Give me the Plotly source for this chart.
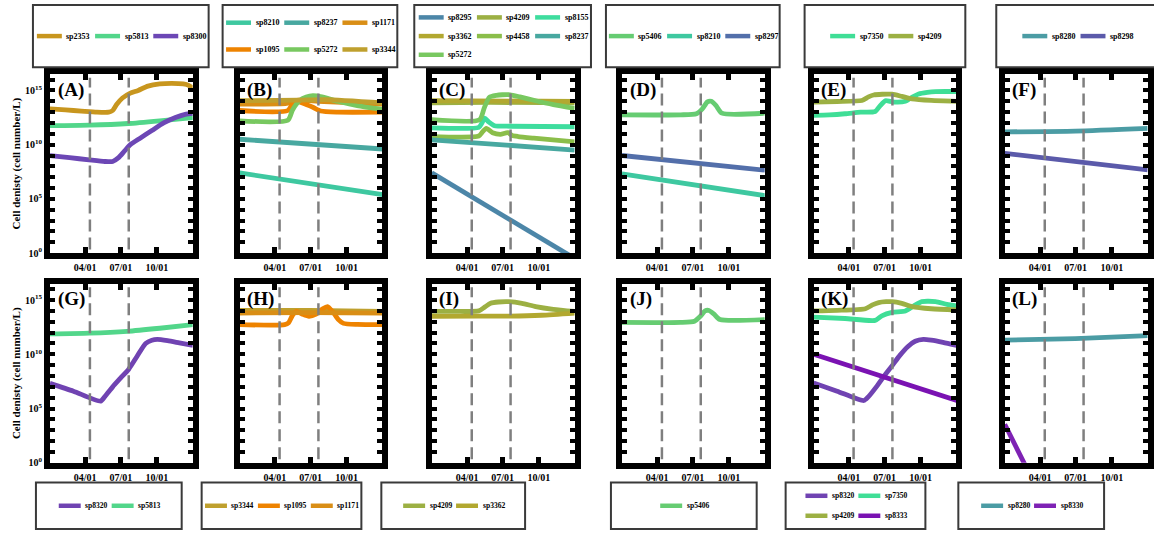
import pandas as pd
import plotly.graph_objects as go

W, H = 1154, 536
YEAR_START = pd.Timestamp("2021-01-01")

# Line colours per species
COLORS = {
    "sp2353": "#C8961E", "sp5813": "#52D68A", "sp8300": "#6C47B5",
    "sp8210": "#3EC8A0", "sp8237": "#48A8A0", "sp1171": "#D98E16",
    "sp1095": "#EE8300", "sp5272": "#78C860", "sp3344": "#BFA02E",
    "sp8295": "#4C86A8", "sp4209": "#9CB043", "sp8155": "#3EDD9E",
    "sp3362": "#B2A830", "sp4458": "#8BBE4A", "sp5406": "#66CC72",
    "sp8297": "#536FAA", "sp7350": "#3FDE96", "sp8280": "#4B9CA4",
    "sp8298": "#5B5AAA", "sp8320": "#7043B2", "sp8333": "#7A12B2",
    "sp8330": "#7E22B4",
}

# Each panel: (species, day of year, log10 cell density)
PANEL_A = [
    ("sp2353", [0, 40, 80, 120, 150, 160, 170, 185, 205, 225, 250, 280, 310, 340, 355, 365],
     [13.3, 13.2, 13.1, 13.0, 13.0, 13.15, 13.7, 14.3, 14.75, 15.0, 15.4, 15.6, 15.65, 15.6, 15.45, 15.2]),
    ("sp5813", [0, 100, 200, 280, 365], [11.75, 11.8, 11.95, 12.2, 12.5]),
    ("sp8300", [0, 50, 100, 140, 160, 175, 190, 205, 230, 260, 290, 320, 345, 365],
     [9.0, 8.8, 8.6, 8.45, 8.45, 8.8, 9.4, 10.0, 10.6, 11.3, 12.0, 12.5, 12.8, 12.9]),
]
PANEL_B = [
    ("sp8210", [0, 365], [7.4, 5.4]),
    ("sp8237", [0, 365], [10.5, 9.6]),
    ("sp1171", [0, 120, 150, 200, 260, 365], [13.75, 13.8, 14.1, 14.0, 13.9, 13.75]),
    ("sp1095", [0, 123, 140, 160, 187, 207, 250, 365], [13.15, 13.15, 14.05, 13.85, 13.45, 13.1, 13.0, 13.0]),
    ("sp5272", [0, 123, 135, 153, 170, 187, 210, 250, 300, 365],
     [12.2, 12.25, 13.2, 14.07, 14.4, 14.52, 14.4, 14.0, 13.6, 13.25]),
    ("sp3344", [0, 150, 220, 365], [14.05, 14.1, 14.15, 13.85]),
]
PANEL_C = [
    ("sp8295", [0, 365], [7.4, -0.5]),
    ("sp4209", [0, 150, 365], [13.85, 13.9, 13.85]),
    ("sp8155", [0, 120, 128, 135, 145, 160, 200, 365], [11.55, 11.6, 12.0, 12.45, 12.1, 11.75, 11.7, 11.65]),
    ("sp3362", [0, 365], [14.05, 14.0]),
    ("sp4458", [0, 120, 130, 139, 155, 175, 194, 205, 220, 260, 365],
     [10.75, 10.8, 11.2, 11.5, 11.1, 10.95, 11.1, 10.85, 10.75, 10.6, 10.25]),
    ("sp8237", [0, 365], [10.45, 9.5]),
    ("sp5272", [0, 122, 134, 147, 165, 180, 200, 225, 265, 310, 365],
     [12.3, 12.3, 13.4, 14.37, 14.55, 14.6, 14.6, 14.4, 14.05, 13.7, 13.35]),
]
PANEL_D = [
    ("sp5406", [0, 150, 190, 205, 218, 228, 240, 255, 365], [12.75, 12.75, 12.85, 13.3, 13.95, 14.0, 13.6, 12.9, 12.9]),
    ("sp8210", [0, 365], [7.3, 5.3]),
    ("sp8297", [0, 365], [9.0, 7.65]),
]
PANEL_E = [
    ("sp7350", [0, 40, 80, 120, 157, 170, 183, 195, 210, 234, 250, 268, 290, 311, 340, 365],
     [12.7, 12.75, 12.85, 13.0, 13.06, 13.6, 14.05, 14.0, 13.92, 14.0, 14.35, 14.68, 14.82, 14.89, 14.9, 14.9]),
    ("sp4209", [0, 60, 123, 140, 153, 175, 200, 225, 251, 300, 365],
     [13.93, 13.98, 14.07, 14.4, 14.58, 14.65, 14.65, 14.45, 14.22, 14.08, 14.0]),
]
PANEL_F = [
    ("sp8280", [0, 180, 365], [11.18, 11.25, 11.5]),
    ("sp8298", [0, 365], [9.2, 7.68]),
]
PANEL_G = [
    ("sp8320", [0, 60, 129, 140, 160, 180, 201, 222, 244, 260, 274, 300, 330, 365],
     [7.32, 6.6, 5.68, 6.1, 7.0, 7.8, 8.63, 9.8, 11.0, 11.3, 11.37, 11.25, 11.05, 10.82]),
    ("sp5813", [0, 100, 197, 280, 365], [11.88, 11.95, 12.12, 12.4, 12.73]),
]
PANEL_H = [
    ("sp3344", [0, 180, 365], [14.05, 14.05, 13.95]),
    ("sp1095", [0, 115, 125, 135, 145, 160, 177, 195, 212, 224, 238, 252, 265, 300, 365],
     [12.73, 12.73, 12.9, 13.6, 13.95, 13.7, 13.5, 13.7, 14.2, 14.4, 13.9, 13.2, 12.85, 12.75, 12.73]),
    ("sp1171", [0, 180, 365], [13.8, 13.85, 13.8]),
]
PANEL_I = [
    ("sp4209", [0, 60, 120, 135, 150, 170, 197, 230, 265, 310, 365],
     [13.95, 13.95, 14.0, 14.35, 14.7, 14.82, 14.85, 14.7, 14.4, 14.15, 13.95]),
    ("sp3362", [0, 120, 200, 280, 365], [13.5, 13.52, 13.52, 13.6, 13.8]),
]
PANEL_J = [
    ("sp5406", [0, 150, 185, 200, 212, 222, 235, 250, 365], [12.94, 12.94, 13.05, 13.5, 14.0, 14.04, 13.7, 13.2, 13.2]),
]
PANEL_K = [
    ("sp8320", [0, 60, 128, 140, 160, 180, 200, 220, 240, 259, 280, 300, 330, 365],
     [7.36, 6.6, 5.74, 6.1, 7.0, 8.0, 8.93, 9.9, 10.7, 11.2, 11.37, 11.3, 11.1, 10.82]),
    ("sp7350", [0, 80, 157, 174, 200, 234, 255, 276, 311, 340, 365],
     [13.43, 13.3, 13.13, 13.55, 13.86, 14.0, 14.45, 14.86, 14.86, 14.6, 14.47]),
    ("sp4209", [0, 60, 132, 150, 166, 185, 200, 225, 251, 300, 365],
     [14.0, 14.05, 14.2, 14.55, 14.77, 14.85, 14.86, 14.7, 14.4, 14.2, 14.1]),
    ("sp8333", [0, 365], [10.0, 5.74]),
]
PANEL_L = [
    ("sp8280", [0, 180, 365], [11.3, 11.45, 11.73]),
    ("sp8330", [0, 60], [3.55, -0.8]),
]

PANELS = [
    ("A", PANEL_A), ("B", PANEL_B), ("C", PANEL_C), ("D", PANEL_D), ("E", PANEL_E), ("F", PANEL_F),
    ("G", PANEL_G), ("H", PANEL_H), ("I", PANEL_I), ("J", PANEL_J), ("K", PANEL_K), ("L", PANEL_L),
]

# Legend contents: (species list, number of columns)
LEGENDS_TOP = [
    (["sp2353", "sp5813", "sp8300"], 3),
    (["sp8210", "sp8237", "sp1171", "sp1095", "sp5272", "sp3344"], 3),
    (["sp8295", "sp4209", "sp8155", "sp3362", "sp4458", "sp8237", "sp5272"], 3),
    (["sp5406", "sp8210", "sp8297"], 3),
    (["sp7350", "sp4209"], 2),
    (["sp8280", "sp8298"], 2),
]
LEGENDS_BOTTOM = [
    (["sp8320", "sp5813"], 2),
    (["sp3344", "sp1095", "sp1171"], 3),
    (["sp4209", "sp3362"], 2),
    (["sp5406"], 1),
    (["sp8320", "sp7350", "sp4209", "sp8333"], 2),
    (["sp8280", "sp8330"], 2),
]

DASH_DATES = ["2021-04-13", "2021-07-21"]
X_TICKS = ["2021-04-01", "2021-07-01", "2021-10-01"]
X_TICK_TEXT = ["04/01", "07/01", "10/01"]
Y_DECADES = list(range(0, 17))
Y_TICK_TEXT = [f"10<sup>{k}</sup>" if k % 5 == 0 else "" for k in Y_DECADES]
Y_TITLE = "Cell denisty (cell number/L)"

FONT = "Liberation Serif"

# Geometry (pixels)
COL_LEFT = [50, 240, 432.5, 623, 815, 1006.5]
COL_W = 143
ROWS = [(75, 256), (287, 468)]
TOP_BOXES = [(33, 209), (223, 398), (415, 592), (607, 781), (806, 967), (998, 1160)]
BOTTOM_BOXES = [(36, 182), (202, 362), (382, 526), (612, 758), (787, 927), (960, 1106)]
TOP_BOX_Y = (5, 68)
BOTTOM_BOX_Y = (488, 535)


def px(x):
    return x / W


def py(y):
    return 1 - y / H


fig = go.Figure()
layout = dict(
    width=W, height=H, autosize=False,
    margin=dict(l=0, r=0, t=0, b=0),
    paper_bgcolor="white", plot_bgcolor="white",
    showlegend=False,
    font=dict(family=FONT, color="black"),
)
shapes = []
annotations = []

for i, (letter, series) in enumerate(PANELS):
    row, col = divmod(i, 6)
    n = i + 1
    xa = "xaxis" if n == 1 else f"xaxis{n}"
    ya = "yaxis" if n == 1 else f"yaxis{n}"
    xr = "x" if n == 1 else f"x{n}"
    yr = "y" if n == 1 else f"y{n}"
    top, bot = ROWS[row]
    left = COL_LEFT[col]

    for name, days, logs in series:
        dates = YEAR_START + pd.to_timedelta(days, unit="D")
        fig.add_trace(go.Scatter(
            x=dates, y=[10 ** v for v in logs], mode="lines", name=name,
            line=dict(color=COLORS[name], width=4.8, shape="spline", smoothing=0.6),
            xaxis=xr, yaxis=yr, hoverinfo="skip",
        ))

    layout[xa] = dict(
        domain=[px(left), px(left + COL_W)], anchor=yr, type="date",
        range=["2021-01-01", "2021-12-31"],
        tickvals=X_TICKS, ticktext=X_TICK_TEXT,
        ticks="inside", ticklen=6, tickwidth=5, tickcolor="black",
        showline=True, linewidth=6, linecolor="black", mirror="ticks",
        showgrid=False, zeroline=False,
        tickfont=dict(family=FONT, size=10, color="black", weight="bold"),
    )
    layout[ya] = dict(
        domain=[py(bot), py(top)], anchor=xr, type="log",
        range=[0, 16.5],
        tickvals=[10 ** k for k in Y_DECADES], ticktext=Y_TICK_TEXT,
        ticks="inside", ticklen=5, tickwidth=4, tickcolor="black",
        showline=True, linewidth=6, linecolor="black", mirror="ticks",
        showgrid=False, zeroline=False, showticklabels=(col == 0),
        tickfont=dict(family=FONT, size=10, color="black", weight="bold"),
    )
    if col == 0:
        layout[ya]["title"] = dict(text=Y_TITLE, standoff=4,
                                   font=dict(family=FONT, size=11, color="black", weight="bold"))

    for d in DASH_DATES:
        shapes.append(dict(type="line", xref=xr, yref=f"{yr} domain", x0=d, x1=d, y0=0.02, y1=0.98,
                           line=dict(color="#7f7f7f", width=2.5, dash="12px,6px"), layer="above"))

    annotations.append(dict(
        text=f"<b>({letter})</b>", xref=f"{xr} domain", yref=f"{yr} domain",
        x=0.04, y=0.985, xanchor="left", yanchor="top", showarrow=False,
        font=dict(family=FONT, size=19, color="black"),
    ))


def add_legend(box, box_y, names, ncols, swatch, pitch, fsize, row_frac):
    x0, x1 = box
    y0, y1 = box_y
    shapes.append(dict(type="rect", xref="paper", yref="paper",
                       x0=px(x0), x1=px(x1), y0=py(y1), y1=py(y0),
                       line=dict(color="#3a3a3a", width=2), fillcolor="rgba(0,0,0,0)"))
    nrows = (len(names) + ncols - 1) // ncols
    text_w = fsize * 3.0
    group_w = (ncols - 1) * pitch + swatch + 2.5 + text_w
    gx = (x0 + x1) / 2 - group_w / 2
    cy = (y0 + y1) / 2
    row_pitch = (y1 - y0) * row_frac.get(nrows, 0)
    for k, name in enumerate(names):
        r, c = divmod(k, ncols)
        ey = cy + (r - (nrows - 1) / 2) * row_pitch
        ex = gx + c * pitch
        shapes.append(dict(type="line", xref="paper", yref="paper",
                           x0=px(ex), x1=px(ex + swatch), y0=py(ey), y1=py(ey),
                           line=dict(color=COLORS[name], width=4.5)))
        annotations.append(dict(text=f"<b>{name}</b>", xref="paper", yref="paper",
                                x=px(ex + swatch + 2.5), y=py(ey), xanchor="left", yanchor="middle",
                                showarrow=False, font=dict(family=FONT, size=fsize, color="black")))


for box, (names, ncols) in zip(TOP_BOXES, LEGENDS_TOP):
    add_legend(box, TOP_BOX_Y, names, ncols, 25, 58.3, 8, {1: 0, 2: 0.43, 3: 0.3})
for box, (names, ncols) in zip(BOTTOM_BOXES, LEGENDS_BOTTOM):
    add_legend(box, BOTTOM_BOX_Y, names, ncols, 22, 53, 7.6, {1: 0, 2: 0.43, 3: 0.3})

layout["shapes"] = shapes
layout["annotations"] = annotations
fig.update_layout(**layout)

fig.write_html("out.html", post_script="document.body.style.margin='0';")
